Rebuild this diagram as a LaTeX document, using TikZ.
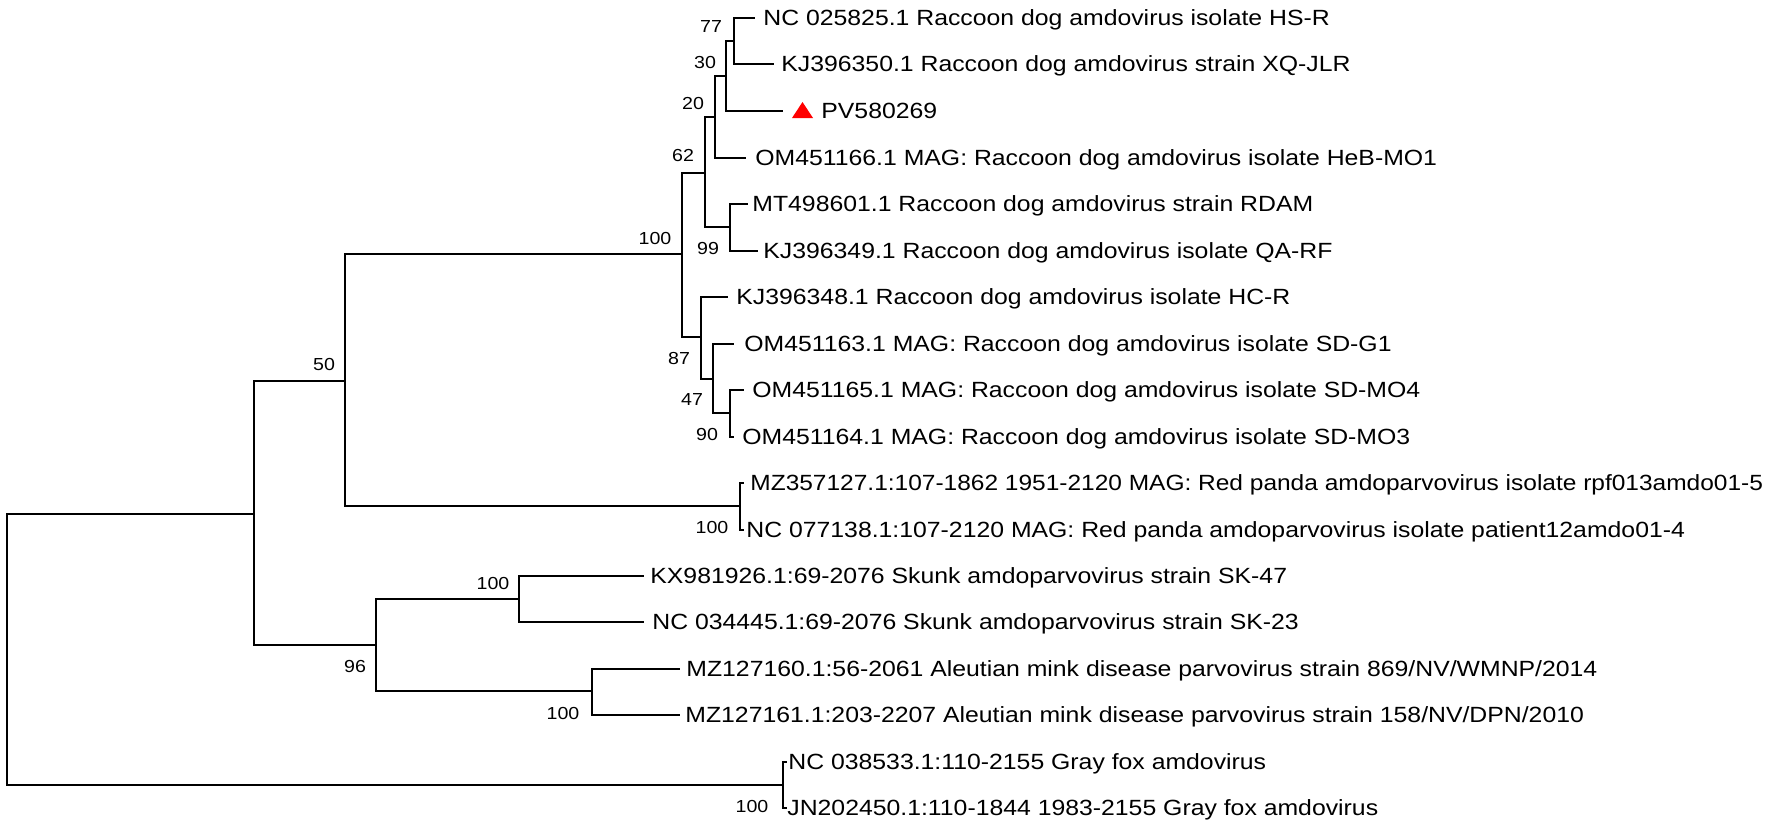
\documentclass[tikz,border=0pt]{standalone}
\usepackage{fontspec}
\newfontfamily\leaffont[FakeStretch=1.127]{Liberation Sans}
\newfontfamily\leaffontn[FakeStretch=1.113]{Liberation Sans}
\begin{document}
\begin{tikzpicture}[x=0.5pt,y=-0.5pt,
  br/.style={line width=1pt,draw=black,line cap=rect,line join=miter},
  leaf/.style={anchor=base west,inner sep=0pt,font=\leaffont\fontsize{11}{13}\selectfont},
  leafn/.style={anchor=base west,inner sep=0pt,font=\leaffontn\fontsize{11}{13}\selectfont},
  bs/.style={inner sep=0pt,font=\leaffont\fontsize{8.7}{10}\selectfont}]
\useasboundingbox[fill=white] (0,0) rectangle (1772,827);
% internal nodes
\coordinate (root) at (7,650);
\coordinate (n2) at (254,514);
\coordinate (n50) at (345,381);
\coordinate (nR) at (682,254);
\coordinate (n62) at (705,173);
\coordinate (n20) at (715,117);
\coordinate (n30) at (726,76);
\coordinate (n77) at (734,41);
\coordinate (n99) at (730,227);
\coordinate (n87) at (701,337);
\coordinate (n47) at (713,379);
\coordinate (n90) at (730,413);
\coordinate (nRP) at (740,506);
\coordinate (n96) at (376,645);
\coordinate (nSK) at (519,599);
\coordinate (nMK) at (592,691);
\coordinate (nGF) at (783,785);
% leaf tips
\coordinate (t0) at (754,18);
\coordinate (t1) at (773,64);
\coordinate (t2) at (782,111);
\coordinate (t3) at (745,158);
\coordinate (t4) at (747,204);
\coordinate (t5) at (757,251);
\coordinate (t6) at (727,297);
\coordinate (t7) at (733,344);
\coordinate (t8) at (743,390);
\coordinate (t9) at (733,437);
\coordinate (t10) at (743,483);
\coordinate (t11) at (743,530);
\coordinate (t12) at (643,576);
\coordinate (t13) at (643,622);
\coordinate (t14) at (679,669);
\coordinate (t15) at (679,715);
\coordinate (t16) at (786,762);
\coordinate (t17) at (786,808);
% branches
\draw[br] (root) |- (n2);  \draw[br] (root) |- (nGF);
\draw[br] (n2) |- (n50);   \draw[br] (n2) |- (n96);
\draw[br] (n50) |- (nR);   \draw[br] (n50) |- (nRP);
\draw[br] (nR) |- (n62);   \draw[br] (nR) |- (n87);
\draw[br] (n62) |- (n20);  \draw[br] (n62) |- (n99);
\draw[br] (n20) |- (n30);  \draw[br] (n20) |- (t3);
\draw[br] (n30) |- (n77);  \draw[br] (n30) |- (t2);
\draw[br] (n77) |- (t0);   \draw[br] (n77) |- (t1);
\draw[br] (n99) |- (t4);   \draw[br] (n99) |- (t5);
\draw[br] (n87) |- (t6);   \draw[br] (n87) |- (n47);
\draw[br] (n47) |- (t7);   \draw[br] (n47) |- (n90);
\draw[br] (n90) |- (t8);   \draw[br] (n90) |- (t9);
\draw[br] (nRP) |- (t10);  \draw[br] (nRP) |- (t11);
\draw[br] (n96) |- (nSK);  \draw[br] (n96) |- (nMK);
\draw[br] (nSK) |- (t12);  \draw[br] (nSK) |- (t13);
\draw[br] (nMK) |- (t14);  \draw[br] (nMK) |- (t15);
\draw[br] (nGF) |- (t16);  \draw[br] (nGF) |- (t17);
% marker
\fill[red] (792,118) -- (813,118) -- (802.5,102) -- cycle;
% leaf labels
\node[leaf] (l0) at (763,25.8) {NC 025825.1 Raccoon dog amdovirus isolate HS-R};
\node[leaf] (l1) at (781,71.8) {KJ396350.1 Raccoon dog amdovirus strain XQ-JLR};
\node[leaf] (l2) at (821,118.8) {PV580269};
\node[leaf] (l3) at (755,165.8) {OM451166.1 MAG: Raccoon dog amdovirus isolate HeB-MO1};
\node[leaf] (l4) at (752,211.8) {MT498601.1 Raccoon dog amdovirus strain RDAM};
\node[leaf] (l5) at (763,258.8) {KJ396349.1 Raccoon dog amdovirus isolate QA-RF};
\node[leaf] (l6) at (736,304.8) {KJ396348.1 Raccoon dog amdovirus isolate HC-R};
\node[leaf] (l7) at (744,351.8) {OM451163.1 MAG: Raccoon dog amdovirus isolate SD-G1};
\node[leaf] (l8) at (752,397.8) {OM451165.1 MAG: Raccoon dog amdovirus isolate SD-MO4};
\node[leaf] (l9) at (742,444.8) {OM451164.1 MAG: Raccoon dog amdovirus isolate SD-MO3};
\node[leafn] (l10) at (750,490.8) {MZ357127.1:107-1862 1951-2120 MAG: Red panda amdoparvovirus isolate rpf013amdo01-5};
\node[leaf] (l11) at (746,537.8) {NC 077138.1:107-2120 MAG: Red panda amdoparvovirus isolate patient12amdo01-4};
\node[leaf] (l12) at (650,583.8) {KX981926.1:69-2076 Skunk amdoparvovirus strain SK-47};
\node[leaf] (l13) at (652,629.8) {NC 034445.1:69-2076 Skunk amdoparvovirus strain SK-23};
\node[leaf] (l14) at (686,676.8) {MZ127160.1:56-2061 Aleutian mink disease parvovirus strain 869/NV/WMNP/2014};
\node[leaf] (l15) at (685,722.8) {MZ127161.1:203-2207 Aleutian mink disease parvovirus strain 158/NV/DPN/2010};
\node[leaf] (l16) at (788,769.8) {NC 038533.1:110-2155 Gray fox amdovirus};
\node[leaf] (l17) at (787,815.8) {JN202450.1:110-1844 1983-2155 Gray fox amdovirus};
% bootstrap values
\node[bs] (b77) at (711,27) {77};
\node[bs] (b30) at (705,62) {30};
\node[bs] (b20) at (693,103) {20};
\node[bs] (b62) at (683,155) {62};
\node[bs] (bR) at (655,238) {100};
\node[bs] (b99) at (708,248) {99};
\node[bs] (b87) at (679,358) {87};
\node[bs] (b47) at (692,399) {47};
\node[bs] (b90) at (707,434) {90};
\node[bs] (bRP) at (712,527) {100};
\node[bs] (b50) at (324,364) {50};
\node[bs] (bSK) at (493,583) {100};
\node[bs] (b96) at (355,666) {96};
\node[bs] (bMK) at (563,713) {100};
\node[bs] (bGF) at (752,806) {100};
\end{tikzpicture}
\end{document}
